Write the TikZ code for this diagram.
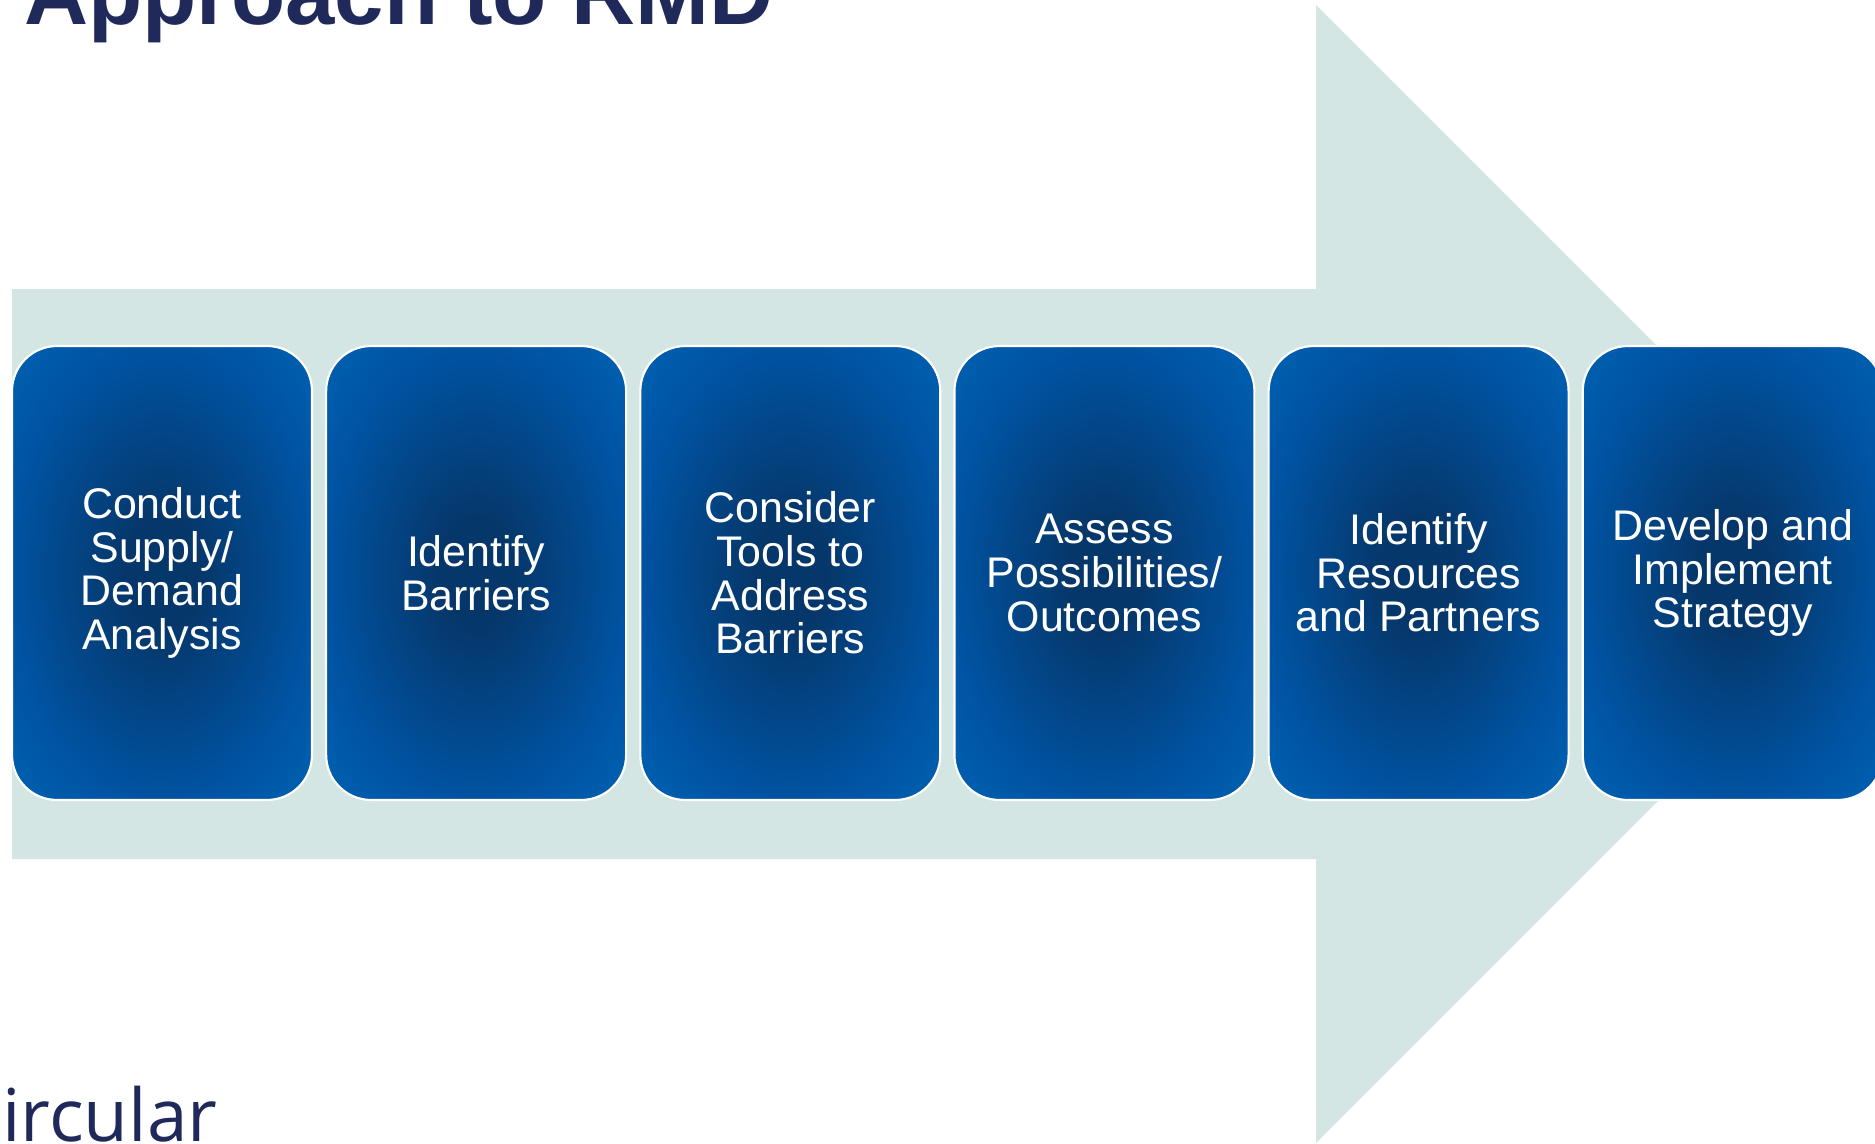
\documentclass[tikz,border=0pt]{standalone}
\usepackage{fontspec}
\setmainfont{Liberation Sans}
\newfontfamily\captionfont{Open Sans}
\usepackage{xcolor}
\usetikzlibrary{positioning}

\definecolor{navy}{HTML}{1F2A5B}
\definecolor{arrowfill}{HTML}{D3E6E4}
\definecolor{boxdark}{HTML}{06376A}
\definecolor{boxmid}{HTML}{0053A2}
\definecolor{boxlight}{HTML}{0062B3}

\pgfdeclareradialshading{stepshade}{\pgfpoint{0bp}{0bp}}{%
  color(0bp)=(boxdark); color(6bp)=(boxdark); color(25bp)=(boxmid);
  color(36bp)=(boxlight); color(50bp)=(boxlight)}

\tikzset{
  stepbox/.style={rectangle, rounded corners=0.9cm, draw=white, line width=1.2pt,
    shading=stepshade, minimum width=6cm, minimum height=9.08cm,
    text=white, align=center, font=\fontsize{24.4}{24.8}\selectfont},
  heading/.style={anchor=base west, inner sep=0pt, text=navy}
}

\begin{document}
\begin{tikzpicture}[x=0.02cm, y=-0.02cm, node distance=0.242cm]
  \useasboundingbox (0,0) rectangle (1875,1143);
  \clip (0,0) rectangle (1875,1143);
  % Big arrow behind the steps
  \fill[arrowfill] (12,289) -- (1316,289) -- (1316,5) -- (1885,574)
    -- (1316,1143) -- (1316,859) -- (12,859) -- cycle;
  % Title
  \node[heading, font=\bfseries\fontsize{50.5}{50}\selectfont] (title) at (24,24) {Approach to RMD};
  % Define nodes
  \node[stepbox] (supply) at (162,573) {Conduct\\Supply/\\Demand\\Analysis}; %
  \node[stepbox, right=of supply] (barriers) {Identify\\Barriers}; %
  \node[stepbox, right=of barriers] (tools) {Consider\\Tools to\\Address\\Barriers};
  \node[stepbox, right=of tools] (outcomes) {Assess\\Possibilities/\\Outcomes};
  \node[stepbox, right=of outcomes] (partners) {Identify\\Resources\\and Partners};
  \node[stepbox, right=of partners] (strategy) {Develop and\\Implement\\Strategy};
  \node[heading, font=\captionfont\fontsize{41.5}{41.5}\selectfont] (circular) at (2,1141) {ircular};
\end{tikzpicture}
\end{document}
